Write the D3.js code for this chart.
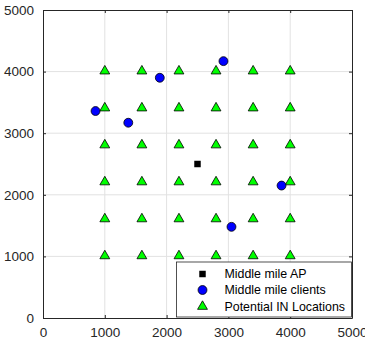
<!DOCTYPE html>
<html>
<head>
<meta charset="utf-8">
<script src="https://cdn.jsdelivr.net/npm/d3@7"></script>
<style>
  html, body { margin: 0; padding: 0; background: #fff; }
  svg { display: block; font-family: "Liberation Sans", Arial, sans-serif; }
</style>
</head>
<body>
<svg id="chart" width="365" height="343"></svg>
<script>
// Grid of candidate locations (same coordinates on both axes)
const gridX = [1000, 1600, 2200, 2800, 3400, 4000];
const gridY = [1000, 1600, 2200, 2800, 3400, 4000];

// Middle mile access point
const apPoints = [[2500, 2500]];

// Middle mile clients
const clientX = [850, 1380, 1890, 2920, 3860, 3050];
const clientY = [3360, 3170, 3900, 4170, 2150, 1480];

const ticks = [0, 1000, 2000, 3000, 4000, 5000];
const legendLabels = ['Middle mile AP', 'Middle mile clients', 'Potential IN Locations'];

const margin = { top: 10, right: 13, bottom: 25, left: 43 };
const width = 365 - margin.left - margin.right;
const height = 343 - margin.top - margin.bottom;
const axisColor = '#262626';

const svg = d3.select('#chart');
const g = svg.append('g').attr('transform', `translate(${margin.left}, ${margin.top})`);

const x = d3.scaleLinear().domain([0, 5000]).range([0, width]);
const y = d3.scaleLinear().domain([0, 5000]).range([height, 0]);

// grid lines
g.append('g')
  .attr('class', 'grid x')
  .selectAll('line')
  .data(ticks.slice(1, -1))
  .join('line')
  .attr('x1', (d) => x(d))
  .attr('x2', (d) => x(d))
  .attr('y1', 0)
  .attr('y2', height)
  .attr('stroke', '#e2e2e2');

g.append('g')
  .attr('class', 'grid y')
  .selectAll('line')
  .data(ticks.slice(1, -1))
  .join('line')
  .attr('y1', (d) => y(d))
  .attr('y2', (d) => y(d))
  .attr('x1', 0)
  .attr('x2', width)
  .attr('stroke', '#e2e2e2');

// axes (ticks pointing inward, box on all sides)
function styleAxis(sel) {
  sel.selectAll('path.domain').attr('stroke', axisColor);
  sel.selectAll('.tick line').attr('stroke', axisColor);
  sel.selectAll('.tick text').attr('fill', axisColor).attr('font-size', 13.5);
}

const fmt = d3.format('d');

g.append('g')
  .attr('transform', `translate(0, ${height})`)
  .call(d3.axisBottom(x).tickValues(ticks).tickFormat(fmt).tickSizeInner(-3).tickSizeOuter(0).tickPadding(9))
  .call(styleAxis)
  .attr('font-family', null);

g.append('g')
  .call(d3.axisLeft(y).tickValues(ticks).tickFormat(fmt).tickSizeInner(-3).tickSizeOuter(0).tickPadding(9))
  .call(styleAxis)
  .attr('font-family', null);

g.append('g')
  .call(d3.axisTop(x).tickValues(ticks).tickSizeInner(-3).tickSizeOuter(0).tickFormat(''))
  .call(styleAxis);

g.append('g')
  .attr('transform', `translate(${width}, 0)`)
  .call(d3.axisRight(y).tickValues(ticks).tickSizeInner(-3).tickSizeOuter(0).tickFormat(''))
  .call(styleAxis);

// symbols
const triangle = d3.symbol().type(d3.symbolTriangle).size(42);
const circle = d3.symbol().type(d3.symbolCircle).size(62);
const square = d3.symbol().type(d3.symbolSquare).size(42);

const locations = gridY.flatMap((yy) => gridX.map((xx) => [xx, yy]));

g.append('g')
  .attr('class', 'locations')
  .selectAll('path')
  .data(locations)
  .join('path')
  .attr('d', triangle)
  .attr('transform', (d) => `translate(${x(d[0])}, ${y(d[1]) - 0.5})`)
  .attr('fill', '#00ff00')
  .attr('stroke', '#000')
  .attr('stroke-width', 0.8);

g.append('g')
  .attr('class', 'ap')
  .selectAll('path')
  .data(apPoints)
  .join('path')
  .attr('d', square)
  .attr('transform', (d) => `translate(${x(d[0])}, ${y(d[1])})`)
  .attr('fill', '#000');

g.append('g')
  .attr('class', 'clients')
  .selectAll('path')
  .data(clientX.map((cx, i) => [cx, clientY[i]]))
  .join('path')
  .attr('d', circle)
  .attr('transform', (d) => `translate(${x(d[0])}, ${y(d[1])})`)
  .attr('fill', '#0000ff')
  .attr('stroke', '#000')
  .attr('stroke-width', 0.8);

// legend
const legend = g.append('g').attr('class', 'legend').attr('transform', 'translate(133.5, 252)');

legend.append('rect')
  .attr('width', 175)
  .attr('height', 55)
  .attr('fill', '#fff')
  .attr('stroke', axisColor)
  .attr('stroke-width', 0.8);

const rowY = [12, 28, 44.5];
const legendSymbols = [
  { d: square(), fill: '#000', stroke: 'none' },
  { d: circle(), fill: '#0000ff', stroke: '#000' },
  { d: triangle(), fill: '#00ff00', stroke: '#000' },
];

const row = legend.selectAll('g.row')
  .data(legendLabels)
  .join('g')
  .attr('class', 'row')
  .attr('transform', (d, i) => `translate(0, ${rowY[i]})`);

row.append('path')
  .attr('d', (d, i) => legendSymbols[i].d)
  .attr('transform', 'translate(26, 0)')
  .attr('fill', (d, i) => legendSymbols[i].fill)
  .attr('stroke', (d, i) => legendSymbols[i].stroke)
  .attr('stroke-width', 0.8);

row.append('text')
  .text((d) => d)
  .attr('x', 48)
  .attr('dy', '0.35em')
  .attr('font-size', 12.4)
  .attr('fill', '#000');
</script>
</body>
</html>
